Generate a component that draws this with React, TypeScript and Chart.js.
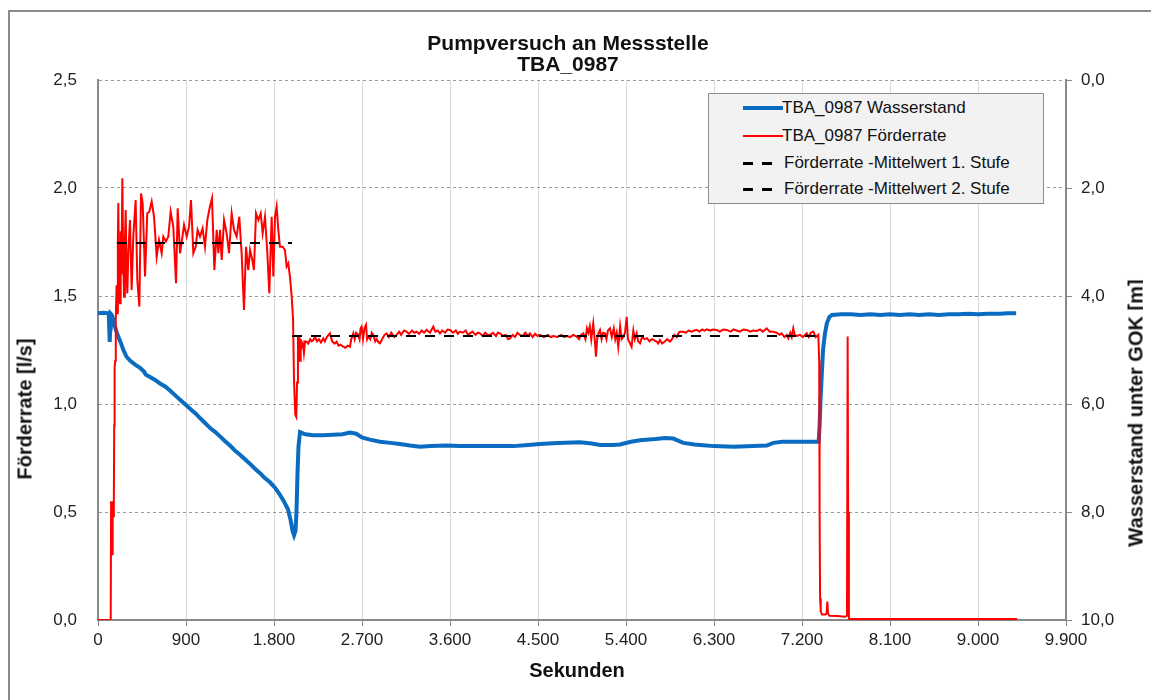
import React, { useEffect, useRef } from "react";
import { Chart, registerables } from "chart.js";

Chart.register(...registerables);

const FONT = "'Liberation Sans', Arial, sans-serif";

// X-axis ticks (seconds)
const xTicksMin = 0;
const xTicksMax = 9900;
const xTickStep = 900;

// Förderrate [l/s] (left axis)
const rateTime = [0, 130, 134, 138, 141, 144, 147, 150, 153, 157, 162, 166, 170, 176, 182, 190, 197, 203, 208, 215, 225, 232, 240, 249, 257, 266, 275, 283, 292, 300, 310, 327, 344, 361, 385, 402, 423, 440, 457, 481, 504, 525, 549, 573, 600, 624, 651, 668, 695, 719, 743, 770, 798, 815, 839, 859, 880, 907, 931, 951, 975, 999, 1019, 1043, 1070, 1094, 1118, 1145, 1166, 1190, 1214, 1231, 1248, 1265, 1289, 1316, 1340, 1367, 1391, 1418, 1445, 1469, 1493, 1514, 1537, 1555, 1578, 1595, 1616, 1640, 1664, 1684, 1708, 1732, 1752, 1776, 1793, 1810, 1827, 1844, 1861, 1889, 1912, 1929, 1946, 1963, 1981, 1995, 2005, 2018, 2028, 2036, 2045, 2052, 2059, 2066, 2073, 2083, 2095, 2106, 2118, 2134, 2150, 2170, 2185, 2202, 2220, 2240, 2260, 2280, 2304, 2320, 2340, 2372, 2395, 2420, 2441, 2460, 2480, 2509, 2530, 2555, 2577, 2590, 2611, 2625, 2640, 2662, 2675, 2685, 2696, 2710, 2725, 2741, 2752, 2764, 2785, 2800, 2816, 2835, 2850, 2870, 2884, 2905, 2930, 2952, 2975, 3000, 3030, 3054, 3080, 3100, 3130, 3156, 3180, 3210, 3235, 3259, 3285, 3310, 3335, 3361, 3395, 3429, 3450, 3475, 3497, 3520, 3550, 3575, 3600, 3630, 3660, 3680, 3702, 3730, 3760, 3785, 3804, 3830, 3860, 3885, 3906, 3935, 3960, 3985, 4009, 4040, 4070, 4090, 4111, 4140, 4170, 4195, 4213, 4240, 4265, 4290, 4315, 4345, 4370, 4395, 4418, 4445, 4470, 4495, 4520, 4560, 4600, 4630, 4656, 4700, 4740, 4770, 4793, 4830, 4860, 4895, 4920, 4940, 4963, 4985, 5000, 5015, 5030, 5045, 5065, 5080, 5093, 5105, 5120, 5134, 5150, 5165, 5185, 5200, 5215, 5236, 5255, 5275, 5290, 5305, 5321, 5340, 5355, 5372, 5390, 5407, 5420, 5441, 5457, 5475, 5490, 5509, 5525, 5543, 5565, 5590, 5615, 5640, 5665, 5690, 5713, 5730, 5747, 5770, 5800, 5820, 5850, 5870, 5895, 5918, 5940, 5952, 5986, 6010, 6040, 6070, 6100, 6123, 6150, 6180, 6205, 6225, 6260, 6290, 6327, 6360, 6395, 6430, 6470, 6500, 6532, 6565, 6600, 6634, 6670, 6700, 6736, 6770, 6800, 6839, 6870, 6907, 6940, 6970, 6992, 7020, 7045, 7060, 7080, 7095, 7111, 7125, 7150, 7179, 7210, 7248, 7270, 7290, 7316, 7340, 7367, 7376, 7380, 7385, 7392, 7405, 7440, 7452, 7459, 7466, 7480, 7560, 7640, 7660, 7667, 7672, 7680, 7700, 9400];
const rateValue = [0, 0, 0.55, 0.45, 0.52, 0.40, 0.50, 0.30, 0.55, 0.48, 0.55, 0.9, 1.17, 1.2, 1.4, 1.55, 1.42, 1.75, 1.93, 1.5, 1.466, 1.8, 1.6, 2.045, 1.7, 1.497, 1.75, 1.898, 1.6, 1.512, 1.7, 1.852, 1.528, 1.775, 1.944, 1.574, 1.451, 1.975, 1.929, 1.59, 1.883, 1.89, 1.937, 1.867, 1.682, 1.759, 1.698, 1.775, 1.752, 1.775, 1.89, 1.821, 1.559, 1.906, 1.698, 1.759, 1.829, 1.775, 1.821, 1.944, 1.698, 1.728, 1.806, 1.775, 1.813, 1.728, 1.852, 1.914, 1.952, 1.62, 1.806, 1.698, 1.806, 1.667, 1.852, 1.79, 1.698, 1.883, 1.806, 1.775, 1.867, 1.698, 1.435, 1.728, 1.62, 1.713, 1.667, 1.62, 1.883, 1.852, 1.883, 1.79, 1.867, 1.698, 1.512, 1.867, 1.59, 1.867, 1.914, 1.806, 1.728, 1.728, 1.713, 1.636, 1.651, 1.59, 1.497, 1.39, 1.1, 0.95, 0.94, 1.1, 1.31, 1.25, 1.312, 1.2, 1.3, 1.265, 1.28, 1.235, 1.29, 1.289, 1.28, 1.3, 1.29, 1.296, 1.31, 1.29, 1.3, 1.285, 1.304, 1.29, 1.31, 1.327, 1.29, 1.28, 1.289, 1.27, 1.275, 1.265, 1.26, 1.27, 1.265, 1.3, 1.327, 1.3, 1.33, 1.32, 1.3, 1.35, 1.358, 1.3, 1.35, 1.366, 1.3, 1.312, 1.3, 1.33, 1.32, 1.29, 1.3, 1.285, 1.281, 1.3, 1.32, 1.327, 1.31, 1.33, 1.31, 1.32, 1.335, 1.32, 1.34, 1.335, 1.325, 1.34, 1.33, 1.335, 1.325, 1.34, 1.33, 1.343, 1.33, 1.358, 1.335, 1.34, 1.327, 1.34, 1.33, 1.345, 1.343, 1.33, 1.34, 1.325, 1.335, 1.33, 1.34, 1.32, 1.327, 1.335, 1.32, 1.33, 1.327, 1.315, 1.33, 1.32, 1.32, 1.33, 1.315, 1.33, 1.327, 1.315, 1.32, 1.3, 1.304, 1.32, 1.31, 1.33, 1.32, 1.315, 1.33, 1.315, 1.327, 1.31, 1.325, 1.315, 1.32, 1.31, 1.32, 1.31, 1.315, 1.31, 1.32, 1.31, 1.315, 1.31, 1.32, 1.312, 1.3, 1.32, 1.327, 1.3, 1.35, 1.33, 1.36, 1.3, 1.373, 1.3, 1.219, 1.3, 1.33, 1.343, 1.3, 1.33, 1.327, 1.3, 1.34, 1.35, 1.31, 1.35, 1.3, 1.33, 1.265, 1.36, 1.3, 1.31, 1.33, 1.404, 1.3, 1.281, 1.265, 1.34, 1.3, 1.327, 1.29, 1.281, 1.31, 1.3, 1.305, 1.29, 1.3, 1.295, 1.289, 1.28, 1.296, 1.28, 1.29, 1.3, 1.289, 1.3, 1.32, 1.31, 1.33, 1.335, 1.335, 1.33, 1.34, 1.335, 1.34, 1.343, 1.335, 1.345, 1.34, 1.346, 1.34, 1.345, 1.343, 1.335, 1.345, 1.343, 1.335, 1.345, 1.34, 1.335, 1.345, 1.343, 1.335, 1.34, 1.338, 1.345, 1.335, 1.35, 1.335, 1.335, 1.33, 1.32, 1.327, 1.31, 1.32, 1.304, 1.33, 1.31, 1.35, 1.32, 1.315, 1.32, 1.31, 1.327, 1.31, 1.33, 1.335, 1.31, 1.32, 1.2, 0.5, 0.1, 0.04, 0.025, 0.025, 0.03, 0.085, 0.03, 0.02, 0.018, 0.015, 0.02, 1.312, 0.5, 0.005, 0.005, 0.005];

// Wasserstand unter GOK [m] (right axis)
const levelTime = [0, 50, 100, 110, 115, 120, 125, 130, 140, 150, 170, 200, 230, 260, 290, 330, 380, 430, 470, 490, 532, 580, 634, 690, 736, 790, 839, 900, 950, 1000, 1043, 1100, 1150, 1200, 1248, 1300, 1350, 1400, 1452, 1500, 1550, 1600, 1657, 1700, 1759, 1810, 1861, 1900, 1943, 1970, 1990, 2005, 2020, 2030, 2040, 2050, 2066, 2120, 2200, 2300, 2400, 2500, 2577, 2640, 2700, 2780, 2884, 2990, 3088, 3190, 3293, 3400, 3565, 3700, 3850, 4000, 4150, 4247, 4400, 4520, 4700, 4930, 5050, 5134, 5270, 5339, 5450, 5543, 5700, 5800, 5884, 5986, 6100, 6157, 6300, 6500, 6700, 6839, 6907, 7000, 7200, 7370, 7380, 7390, 7401, 7415, 7435, 7455, 7480, 7507, 7600, 7700, 7800, 7900, 8000, 8100, 8200, 8300, 8400, 8500, 8600, 8700, 8800, 8900, 9000, 9100, 9225, 9300, 9390];
const levelValue = [4.32, 4.31, 4.32, 4.33, 4.6, 4.85, 4.6, 4.33, 4.35, 4.4, 4.55, 4.72, 4.85, 5.0, 5.12, 5.2, 5.27, 5.33, 5.4, 5.46, 5.5, 5.55, 5.62, 5.68, 5.75, 5.84, 5.92, 6.02, 6.1, 6.18, 6.26, 6.36, 6.45, 6.52, 6.6, 6.69, 6.77, 6.86, 6.94, 7.02, 7.1, 7.19, 7.28, 7.36, 7.45, 7.55, 7.68, 7.8, 7.95, 8.15, 8.35, 8.43, 8.35, 8.0, 7.3, 6.8, 6.52, 6.56, 6.58, 6.58, 6.57, 6.56, 6.53, 6.55, 6.62, 6.66, 6.7, 6.72, 6.74, 6.77, 6.79, 6.78, 6.77, 6.78, 6.78, 6.78, 6.78, 6.78, 6.76, 6.74, 6.72, 6.71, 6.73, 6.76, 6.76, 6.75, 6.7, 6.67, 6.65, 6.63, 6.64, 6.72, 6.75, 6.76, 6.78, 6.79, 6.78, 6.77, 6.72, 6.7, 6.7, 6.7, 6.4, 5.9, 5.5, 5.0, 4.69, 4.5, 4.39, 4.35, 4.34, 4.34, 4.35, 4.34, 4.35, 4.34, 4.35, 4.34, 4.35, 4.34, 4.35, 4.34, 4.34, 4.33, 4.34, 4.33, 4.33, 4.32, 4.32];

// Mean values of the two pumping stages
const mean1Time = [194, 1984];
const mean1Value = [1.745, 1.745];
const mean2Time = [1984, 7363];
const mean2Value = [1.315, 1.315];

const legendLabels = [
  "TBA_0987 Wasserstand",
  "TBA_0987 Förderrate",
  "Förderrate -Mittelwert 1. Stufe",
  "Förderrate -Mittelwert 2. Stufe",
];

const BLUE = "#0a6cc0";
const RED = "#ff0000";

const toPoints = (xs: number[], ys: number[]) => xs.map((x, i) => ({ x, y: ys[i] }));
const fmtThousands = (v: any) =>
  String(Math.round(Number(v))).replace(/\B(?=(\d{3})+(?!\d))/g, ".");
const fmtDec = (v: any) => Number(v).toFixed(1).replace(".", ",");

export default function App() {
  const ref = useRef<HTMLCanvasElement | null>(null);

  useEffect(() => {
    if (!ref.current) return;
    const tickFont = { family: FONT, size: 17 };
    const chart = new Chart(ref.current, {
      type: "line",
      data: {
        datasets: [
          {
            label: legendLabels[2],
            data: toPoints(mean1Time, mean1Value),
            yAxisID: "yL",
            borderColor: "#000",
            borderWidth: 2,
            borderDash: [10, 9],
            pointRadius: 0,
            order: 0,
          },
          {
            label: legendLabels[3],
            data: toPoints(mean2Time, mean2Value),
            yAxisID: "yL",
            borderColor: "#000",
            borderWidth: 2,
            borderDash: [10, 9],
            pointRadius: 0,
            order: 0,
          },
          {
            label: legendLabels[1],
            data: toPoints(rateTime, rateValue),
            yAxisID: "yL",
            borderColor: RED,
            borderWidth: 2,
            pointRadius: 0,
            tension: 0,
            order: 1,
          },
          {
            label: legendLabels[0],
            data: toPoints(levelTime, levelValue),
            yAxisID: "yR",
            borderColor: BLUE,
            borderWidth: 4,
            pointRadius: 0,
            tension: 0,
            order: 2,
          },
        ],
      },
      options: {
        animation: false,
        responsive: false,
        devicePixelRatio: 1,
        layout: { padding: { top: 72, left: 0, right: 0, bottom: 0 } },
        plugins: {
          legend: { display: false },
          title: { display: false },
          tooltip: { enabled: false },
        },
        scales: {
          x: {
            type: "linear",
            min: xTicksMin,
            max: xTicksMax,
            ticks: {
              stepSize: xTickStep,
              callback: fmtThousands,
              font: tickFont,
              color: "#222",
              padding: 4,
              maxRotation: 0,
              autoSkip: false,
            },
            grid: { color: "#d9d9d9", tickColor: "#888", tickLength: 6, lineWidth: 1 },
            border: { color: "#888", width: 2 },
            afterFit: (s: any) => {
              s.height = 72;
            },
          },
          yL: {
            type: "linear",
            position: "left",
            min: 0,
            max: 2.5,
            ticks: { stepSize: 0.5, callback: fmtDec, font: tickFont, color: "#222", padding: 21 },
            grid: { color: "#9a9a9a", drawTicks: false, lineWidth: 1 },
            border: { color: "#888", width: 2, dash: [3, 3] },
            afterFit: (s: any) => {
              s.width = 90;
            },
          },
          yR: {
            type: "linear",
            position: "right",
            min: 0,
            max: 10,
            reverse: true,
            ticks: { stepSize: 2, callback: fmtDec, font: tickFont, color: "#222", padding: 9 },
            grid: { drawOnChartArea: false, tickColor: "#888", tickLength: 6 },
            border: { color: "#888", width: 2 },
            afterFit: (s: any) => {
              s.width = 77;
            },
          },
        },
      },
    } as any);
    return () => chart.destroy();
  }, []);

  const txt: React.CSSProperties = {
    position: "absolute",
    fontFamily: FONT,
    color: "#111",
    whiteSpace: "nowrap",
  };
  const rows = [14, 42, 69, 95];

  return (
    <div style={{ position: "relative", width: 1135, height: 684 }}>
      <div
        style={{
          position: "fixed",
          left: 8,
          top: 10,
          width: 1200,
          height: 760,
          borderTop: "2px solid #8a8a8a",
          borderLeft: "2px solid #8a8a8a",
          boxSizing: "border-box",
          pointerEvents: "none",
        }}
      />
      <canvas ref={ref} width={1135} height={684} style={{ position: "absolute", left: 0, top: 0 }} />
      <div
        style={{
          ...txt,
          left: 310,
          top: 24,
          width: 500,
          textAlign: "center",
          fontWeight: "bold",
          fontSize: 21,
          lineHeight: "21px",
        }}
      >
        Pumpversuch an Messstelle
        <br />
        TBA_0987
      </div>
      <div
        style={{
          ...txt,
          left: 17,
          top: 401,
          fontWeight: "bold",
          fontSize: 20,
          transform: "translate(-50%, -50%) rotate(-90deg)",
        }}
      >
        Förderrate [l/s]
      </div>
      <div
        style={{
          ...txt,
          left: 1128,
          top: 405,
          fontWeight: "bold",
          fontSize: 20,
          transform: "translate(-50%, -50%) rotate(-90deg)",
        }}
      >
        Wasserstand unter GOK [m]
      </div>
      <div
        style={{
          ...txt,
          left: 569,
          top: 662,
          fontWeight: "bold",
          fontSize: 20,
          transform: "translate(-50%, -50%)",
        }}
      >
        Sekunden
      </div>
      <div
        style={{
          position: "absolute",
          left: 700,
          top: 85,
          width: 336,
          height: 111,
          background: "#f2f2f2",
          border: "1px solid #8c8c8c",
          boxSizing: "border-box",
        }}
      >
        {rows.map((cy, i) => (
          <React.Fragment key={i}>
            {i < 2 ? (
              <div
                style={{
                  position: "absolute",
                  left: 34,
                  width: 40,
                  top: cy - (i === 0 ? 2 : 1),
                  height: i === 0 ? 4 : 2,
                  background: i === 0 ? BLUE : RED,
                }}
              />
            ) : (
              <>
                <div style={{ position: "absolute", left: 34, width: 10, top: cy - 1.5, height: 3, background: "#000" }} />
                <div style={{ position: "absolute", left: 53, width: 10, top: cy - 1.5, height: 3, background: "#000" }} />
              </>
            )}
            <div
              style={{
                ...txt,
                left: i < 2 ? 73 : 75,
                top: cy - 10,
                fontSize: 17,
                lineHeight: "20px",
              }}
            >
              {legendLabels[i]}
            </div>
          </React.Fragment>
        ))}
      </div>
    </div>
  );
}
